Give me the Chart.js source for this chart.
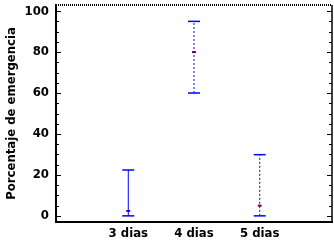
<!DOCTYPE html>
<html>
<head>
<meta charset="utf-8">
<script src="https://cdn.jsdelivr.net/npm/chart.js@4.4.1/dist/chart.umd.min.js"></script>
<style>
  html, body { margin: 0; padding: 0; background: #fff; }
  #wrap { width: 334px; height: 242px; }
</style>
</head>
<body>
<div id="wrap"><canvas id="emergChart"></canvas></div>
<script>
// data
const categories = ['3 dias', '4 dias', '5 dias'];
const xPositions = [1, 2, 3];
const lowerValues = [0, 60, 0];
const upperValues = [22.4, 95, 29.9];
const meanValues = [2.4, 80, 5];
const yTickValues = [0, 20, 40, 60, 80, 100];
const yMinorStep = 5;

const blue = '#0000ff';
const dashes = [[], [2, 2], [2, 2]];
const tickFont = { family: 'DejaVu Sans Condensed', size: 13, weight: 'bold' };

const barSets = categories.map(function (name, i) {
    return {
        label: name,
        type: 'line',
        data: [
            { x: xPositions[i], y: lowerValues[i] },
            { x: xPositions[i], y: upperValues[i] }
        ],
        borderColor: blue,
        borderWidth: 1,
        borderDash: dashes[i],
        pointStyle: 'line',
        pointRadius: 6,
        pointBorderColor: blue,
        pointBorderWidth: 1.5,
        pointBackgroundColor: blue,
        fill: false
    };
});

const meanSet = {
    label: 'media',
    type: 'scatter',
    data: xPositions.map(function (x, i) { return { x: x, y: meanValues[i] }; }),
    pointStyle: 'line',
    pointRadius: 2,
    pointBorderColor: '#800040',
    pointBorderWidth: 2
};

// inward ticks on left and right, dotted top border
const frameTicks = {
    id: 'frameTicks',
    afterDraw: function (chart) {
        const ctx = chart.ctx;
        const a = chart.chartArea;
        const ys = chart.scales.y;
        ctx.save();
        ctx.strokeStyle = '#000';
        ctx.lineWidth = 1;
        for (let v = 0; v <= 100; v += yMinorStep) {
            const y = Math.round(ys.getPixelForValue(v)) + 0.5;
            const len = yTickValues.indexOf(v) >= 0 ? 5 : 3;
            ctx.beginPath();
            ctx.moveTo(a.left, y);
            ctx.lineTo(a.left + len, y);
            ctx.moveTo(a.right, y);
            ctx.lineTo(a.right - len, y);
            ctx.stroke();
        }
        ctx.lineWidth = 1.5;
        ctx.beginPath();
        ctx.moveTo(a.right, a.top);
        ctx.lineTo(a.right, a.bottom);
        ctx.stroke();
        ctx.setLineDash([1, 1]);
        ctx.lineWidth = 2;
        ctx.beginPath();
        ctx.moveTo(a.left, a.top);
        ctx.lineTo(a.right, a.top);
        ctx.stroke();
        ctx.restore();
    }
};

new Chart(document.getElementById('emergChart'), {
    type: 'scatter',
    data: { datasets: barSets.concat([meanSet]) },
    options: {
        responsive: true,
        maintainAspectRatio: false,
        animation: false,
        layout: { autoPadding: false, padding: { top: 5, right: 2, left: 0, bottom: 0 } },
        plugins: {
            legend: { display: false },
            tooltip: { enabled: false }
        },
        scales: {
            x: {
                type: 'linear',
                min: -0.1,
                max: 4.1,
                afterBuildTicks: function (s) {
                    s.ticks = xPositions.map(function (v) { return { value: v }; });
                },
                afterFit: function (s) {
                    s.height = 20;
                    s.paddingLeft = 0;
                    s.paddingRight = 0;
                },
                grid: { display: false, drawTicks: false },
                border: { display: true, color: '#000', width: 2 },
                ticks: {
                    color: '#000',
                    font: tickFont,
                    padding: 4,
                    autoSkip: false,
                    maxRotation: 0,
                    callback: function (v) {
                        const i = xPositions.indexOf(v);
                        return i >= 0 ? categories[i] : '';
                    }
                }
            },
            y: {
                min: -3,
                max: 103,
                afterBuildTicks: function (s) {
                    s.ticks = yTickValues.map(function (v) { return { value: v }; });
                },
                afterFit: function (s) {
                    s.width = 56;
                    s.paddingTop = 0;
                    s.paddingBottom = 0;
                },
                grid: { display: false, drawTicks: false },
                border: { display: true, color: '#000', width: 2 },
                ticks: {
                    color: '#000',
                    font: tickFont,
                    padding: 7
                },
                title: {
                    display: true,
                    text: 'Porcentaje de emergencia',
                    color: '#000',
                    font: { family: 'DejaVu Sans Condensed', size: 13, weight: 'bold' },
                    padding: { top: 4, bottom: 0 }
                }
            }
        }
    },
    plugins: [frameTicks]
});
</script>
</body>
</html>
